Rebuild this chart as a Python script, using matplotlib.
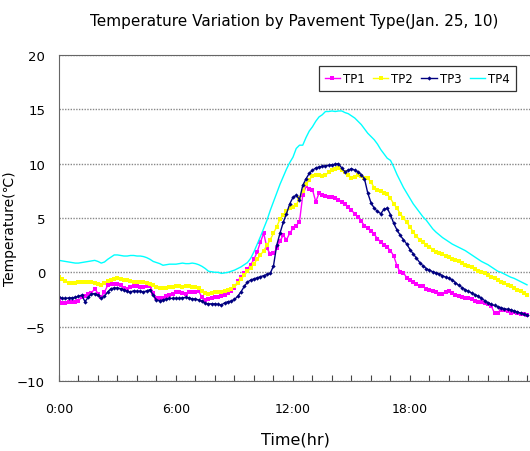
import numpy as np
import matplotlib
matplotlib.use('Agg')
import matplotlib.pyplot as plt
from matplotlib.ticker import MultipleLocator, FuncFormatter

# Time axis: 10-minute readings from 0:00 to 24:00 (hours)
hours = np.arange(145) / 6.0

# TP1 (magenta)
tp1 = [-2.55, -2.85, -2.8, -2.75, -2.7, -2.7,
       -2.6, -2.3, -2.15, -2.0, -1.9, -1.5,
       -1.95, -2.25, -1.8, -1.2, -1.05, -1.1,
       -1.05, -1.15, -1.45, -1.5, -1.35, -1.3,
       -1.3, -1.35, -1.35, -1.3, -1.25, -1.9,
       -2.4, -2.4, -2.35, -2.2, -2.05, -1.95,
       -1.85, -1.8, -1.9, -1.95, -1.85, -1.8,
       -1.8, -1.75, -2.3, -2.55, -2.5, -2.4,
       -2.3, -2.25, -2.2, -2.1, -1.9, -1.7,
       -1.4, -0.8, -0.4, -0.1, 0.3, 0.7,
       1.2, 1.9, 2.8, 3.6, 2.2, 1.7,
       1.75, 2.2, 2.9, 3.4, 3.0, 3.6,
       4.05, 4.3, 4.66, 7.1, 7.9, 7.7,
       7.6, 6.5, 7.27, 7.15, 7.05, 6.96,
       6.9, 6.8, 6.7, 6.5, 6.25, 6.0,
       5.7, 5.4, 5.1, 4.7, 4.3, 4.05,
       3.8, 3.5, 3.1, 2.8, 2.5, 2.3,
       2.0, 1.5, 0.6, 0.0, -0.05, -0.5,
       -0.7, -0.9, -1.1, -1.25, -1.3, -1.5,
       -1.6, -1.7, -1.8, -1.95, -2.0, -1.8,
       -1.75, -1.9, -2.1, -2.15, -2.25, -2.35,
       -2.4, -2.5, -2.6, -2.7, -2.75, -2.85,
       -2.9, -3.1, -3.75, -3.7, -3.45, -3.5,
       -3.6, -3.75, -3.65, -3.75, -3.8, -3.85,
       -3.9]

# TP2 (yellow)
tp2 = [-0.4, -0.6, -0.8, -1.0, -1.0, -0.95,
       -0.9, -0.9, -0.85, -0.85, -0.9, -1.0,
       -1.1, -1.15, -0.95, -0.8, -0.7, -0.6,
       -0.55, -0.6, -0.7, -0.75, -0.8, -0.85,
       -0.85, -0.85, -0.9, -1.0, -1.05, -1.2,
       -1.35, -1.45, -1.45, -1.4, -1.35, -1.35,
       -1.3, -1.3, -1.35, -1.3, -1.3, -1.35,
       -1.35, -1.45, -1.7, -1.9, -1.95, -1.9,
       -1.85, -1.85, -1.8, -1.75, -1.65, -1.5,
       -1.3, -1.0, -0.65, -0.25, 0.1, 0.4,
       0.8, 1.2, 1.6, 2.0, 2.5, 3.0,
       3.6, 4.2, 4.9, 5.3, 5.6, 5.9,
       6.0, 6.2, 6.8, 7.5, 8.1, 8.5,
       8.9, 8.95, 8.95, 8.9, 8.95, 9.2,
       9.4, 9.5, 9.6, 9.45, 9.2, 9.0,
       8.65, 8.8, 8.95, 8.85, 8.7, 8.65,
       8.3, 7.8, 7.6, 7.45, 7.3, 7.2,
       6.8, 6.3, 5.9, 5.4, 5.0, 4.6,
       4.2, 3.7, 3.3, 3.0, 2.8, 2.55,
       2.35, 2.1, 1.9, 1.8, 1.65, 1.5,
       1.4, 1.25, 1.1, 1.0, 0.85, 0.7,
       0.6, 0.45, 0.3, 0.15, 0.05, -0.1,
       -0.25, -0.4, -0.55, -0.7, -0.85, -1.0,
       -1.15, -1.3, -1.45, -1.6, -1.75, -1.9,
       -2.05]

# TP3 (navy)
tp3 = [-2.25, -2.4, -2.4, -2.35, -2.35, -2.3,
       -2.2, -2.1, -2.7, -2.3, -2.0, -1.95,
       -2.1, -2.4, -2.2, -1.8, -1.5, -1.45,
       -1.45, -1.5, -1.6, -1.75, -1.8, -1.7,
       -1.75, -1.75, -1.8, -1.7, -1.6, -2.1,
       -2.55, -2.6, -2.55, -2.45, -2.4, -2.4,
       -2.4, -2.4, -2.35, -2.3, -2.35, -2.45,
       -2.45, -2.55, -2.65, -2.85, -2.9, -2.9,
       -2.9, -2.95, -3.0, -2.8, -2.7, -2.65,
       -2.5, -2.2, -1.8, -1.3, -0.9, -0.7,
       -0.6, -0.5, -0.4, -0.3, -0.2, -0.1,
       0.6, 2.5, 3.6, 4.6, 5.4, 6.3,
       6.9, 7.1, 6.7, 8.0, 8.6, 9.1,
       9.4, 9.6, 9.7, 9.75, 9.8, 9.85,
       9.9, 9.95, 10.0, 9.6, 9.25, 9.4,
       9.55, 9.4, 9.25, 9.0, 8.6, 7.3,
       6.4, 5.9, 5.6, 5.4, 5.8, 5.9,
       5.3, 4.5, 3.9, 3.4, 3.0, 2.6,
       2.1, 1.7, 1.3, 0.9, 0.6, 0.35,
       0.2, 0.05, -0.05, -0.15, -0.3, -0.45,
       -0.55, -0.7, -0.95, -1.2, -1.4, -1.6,
       -1.75, -1.9, -2.05, -2.2, -2.4, -2.6,
       -2.8, -2.95, -3.05, -3.15, -3.25, -3.35,
       -3.4, -3.45, -3.55, -3.65, -3.75, -3.85,
       -3.9]

# TP4 (cyan)
tp4 = [1.1, 1.05, 1.0, 0.95, 0.9, 0.85,
       0.85, 0.9, 0.95, 1.0, 1.05, 1.1,
       1.0, 0.85, 0.95, 1.2, 1.4, 1.6,
       1.6, 1.55, 1.5, 1.5, 1.55, 1.55,
       1.5, 1.5, 1.45, 1.35, 1.2, 1.0,
       0.9, 0.8, 0.65, 0.7, 0.75, 0.75,
       0.75, 0.8, 0.85, 0.8, 0.8, 0.85,
       0.8, 0.7, 0.55, 0.35, 0.1, 0.05,
       0.0, 0.0, -0.1, -0.05, 0.0, 0.1,
       0.2, 0.35, 0.5, 0.7, 0.9, 1.3,
       1.9, 2.6, 3.3, 4.05, 4.8, 5.7,
       6.5, 7.3, 8.1, 8.8, 9.5, 10.1,
       10.6, 11.4, 11.7, 11.7, 12.4, 13.0,
       13.4, 13.9, 14.3, 14.5, 14.8, 14.8,
       14.85, 14.8, 14.85, 14.85, 14.7, 14.6,
       14.4, 14.2, 13.9, 13.6, 13.2, 12.8,
       12.5, 12.2, 11.8, 11.3, 10.9, 10.5,
       10.3, 9.7, 9.0, 8.4, 7.8, 7.3,
       6.8, 6.3, 5.9, 5.5, 5.1, 4.8,
       4.4, 4.0, 3.7, 3.45, 3.2, 3.0,
       2.8, 2.6, 2.45, 2.3, 2.15, 2.0,
       1.8, 1.6, 1.4, 1.2, 1.0, 0.85,
       0.7, 0.5, 0.3, 0.1, 0.0, -0.15,
       -0.3, -0.45, -0.55, -0.7, -0.85, -1.0,
       -1.15]

series = ['TP1', 'TP2', 'TP3', 'TP4']
time_labels = ['0:00', '6:00', '12:00', '18:00']

# figure 530x452 px
fig = plt.figure(figsize=(5.3, 4.52), dpi=100)
ax = fig.add_axes([0.1113, 0.1549, 0.8904, 0.7212])

ax.plot(hours, tp1, color='#FF00FF', lw=1, marker='s', ms=3, mew=0, label=series[0])
ax.plot(hours, tp2, color='#FFFF00', lw=1, marker='s', ms=2.2, mew=0, label=series[1])
ax.plot(hours, tp3, color='#000080', lw=1, marker='D', ms=2.2, mew=0, label=series[2])
ax.plot(hours, tp4, color='#00FFFF', lw=1, label=series[3])

ax.set_xlim(0, 24.2)
ax.set_ylim(-10, 20)

# hourly inner ticks, labels only every 6 hours
def hour_fmt(v, p):
    h = int(round(v))
    if h % 6 == 0 and h < 24:
        return time_labels[h // 6]
    return ''

ax.xaxis.set_major_locator(MultipleLocator(1))
ax.xaxis.set_major_formatter(FuncFormatter(hour_fmt))
ax.tick_params(axis='x', direction='in', length=4, width=0.8, color='#444444', pad=15, labelsize=9)
ax.yaxis.set_major_locator(MultipleLocator(5))
ax.tick_params(axis='y', length=0, pad=10, labelsize=9.5)

# dotted horizontal grid
ax.grid(axis='y', linestyle=(0, (1, 1)), color='#888888', lw=1)
ax.grid(axis='x', visible=False)

for s in ['left', 'bottom', 'top']:
    ax.spines[s].set_color('#666666')
ax.spines['right'].set_visible(False)

ax.set_xlabel('Time(hr)', fontsize=11.5, labelpad=12)
ax.set_ylabel('Temperature(℃)', fontsize=10)
ax.yaxis.set_label_coords(-0.088, 0.47)
fig.suptitle('Temperature Variation by Pavement Type(Jan. 25, 10)', fontsize=11, x=0.555, y=0.97)

leg = ax.legend(ncol=4, loc='upper right', bbox_to_anchor=(0.98, 0.985), fontsize=8.5,
                handlelength=1.3, handletextpad=0.25, columnspacing=0.7,
                fancybox=False, edgecolor='#333333', framealpha=1, borderpad=0.5)
leg.get_frame().set_linewidth(0.9)

plt.savefig('out.png', dpi=100)
